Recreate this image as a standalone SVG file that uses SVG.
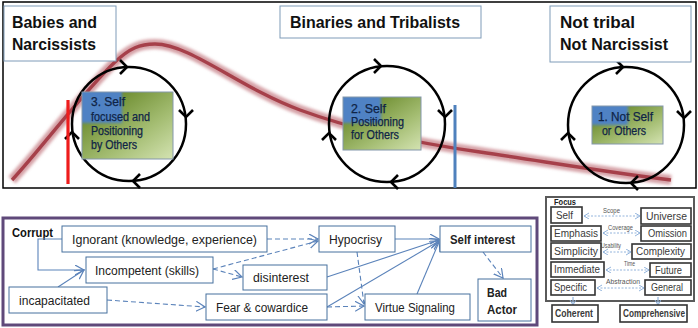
<svg xmlns="http://www.w3.org/2000/svg" width="698" height="328" viewBox="0 0 698 328">
<defs>
<style>
.t{font-family:"Liberation Sans",Arial,sans-serif;}
.title{font-size:17px;font-weight:bold;fill:#111;}
.tb{fill:#fff;stroke:#7f9bb8;stroke-width:1;}
.circ{fill:none;stroke:#000;stroke-width:2.5;}
.chev{fill:none;stroke:#000;stroke-width:2.6;stroke-linejoin:miter;stroke-linecap:butt;}
.gbox{stroke:#8497ab;stroke-width:1;}
.bt{font-size:12px;fill:#0f2446;stroke:#0f2446;stroke-width:0.25;}
.nb{fill:#fff;stroke:#46709e;stroke-width:1;}
.nt{font-size:12px;fill:#222;}
.bold{font-weight:bold;}
.c{fill:none;stroke:#5b83ba;stroke-width:1.1;}
.d{stroke-dasharray:5,3;}
.fb{fill:#fff;stroke:#333;stroke-width:1.6;}
.ft{font-size:10px;fill:#3a3a3a;}
.fl{font-size:7px;fill:#555;}
.fa{fill:none;stroke:#93b4dc;stroke-width:1;stroke-dasharray:2,1.5;}
</style>
<marker id="arr" markerUnits="userSpaceOnUse" markerWidth="12" markerHeight="12" refX="9" refY="5" orient="auto">
<path d="M0,0 L9,5 L0,10" fill="none" stroke="#5b83ba" stroke-width="1.2"/>
</marker>
<marker id="farr" markerUnits="userSpaceOnUse" markerWidth="8" markerHeight="8" refX="5" refY="3" orient="auto-start-reverse">
<path d="M0,0 L5,3 L0,6" fill="none" stroke="#93b4dc" stroke-width="1"/>
</marker>
<linearGradient id="green" x1="0.2" y1="0.15" x2="1" y2="1">
<stop offset="0" stop-color="#6a8a2c"/>
<stop offset="0.55" stop-color="#a4bd72"/>
<stop offset="1" stop-color="#d4e3b2"/>
</linearGradient>
<filter id="soft" x="-30%" y="-30%" width="160%" height="160%"><feGaussianBlur stdDeviation="1.5"/></filter>
<filter id="glow" x="-5%" y="-20%" width="110%" height="140%"><feGaussianBlur stdDeviation="1.8"/></filter>
<clipPath id="cb1"><rect x="82" y="92" width="91" height="67"/></clipPath>
<clipPath id="cb2"><rect x="343" y="97" width="78" height="53"/></clipPath>
<clipPath id="cb3"><rect x="592" y="106" width="71" height="38"/></clipPath>
</defs>
<rect width="698" height="328" fill="#fff"/>

<g id="top-panel">
<rect x="3" y="2" width="693" height="186" fill="#fff" stroke="#000" stroke-width="1.5"/>
<g id="curve">
<path d="M12,180 C40,150 85,90 115,62 C130,48 140,44 155,44 C190,44 240,88 300,110 C360,132 430,145 480,152 C560,164 620,174 671,180" fill="none" stroke="#c47a82" stroke-width="10" stroke-opacity="0.7" filter="url(#glow)"/>
<path d="M12,180 C40,150 85,90 115,62 C130,48 140,44 155,44 C190,44 240,88 300,110 C360,132 430,145 480,152 C560,164 620,174 671,180" fill="none" stroke="#9e2f3a" stroke-width="3.4" stroke-opacity="0.85"/>
</g>
</g>

<g id="cycle-1">
<circle class="circ" cx="129" cy="124" r="57"/>
<path class="chev" d="M120,60 L127,67 L120,74"/>
<path class="chev" d="M179,110 L186,117 L193,110"/>
<path class="chev" d="M140,174 L133,181 L140,188"/>
<path class="chev" d="M65,139 L72,132 L79,139"/>
</g>
<g id="cycle-2">
<circle class="circ" cx="387" cy="124" r="58"/>
<path class="chev" d="M374,59 L381,66 L374,73"/>
<path class="chev" d="M438,110 L445,117 L452,110"/>
<path class="chev" d="M398,175 L391,182 L398,189"/>
<path class="chev" d="M322,140 L329,133 L336,140"/>
</g>
<g id="cycle-3">
<circle class="circ" cx="626" cy="125" r="58"/>
<path class="chev" d="M616,60 L623,67 L616,74"/>
<path class="chev" d="M677,111 L684,118 L691,111"/>
<path class="chev" d="M638,176 L631,183 L638,190"/>
<path class="chev" d="M561,140 L568,133 L575,140"/>
</g>

<g id="box-3-self-focused">
<g clip-path="url(#cb1)">
<rect x="82" y="92" width="91" height="67" fill="url(#green)"/>
<rect x="78" y="88" width="44" height="35" fill="#4f82c4" filter="url(#soft)"/>
</g>
<rect class="gbox" x="82" y="92" width="91" height="67" fill="none"/>
<text class="t bt" x="91" y="106" textLength="34" lengthAdjust="spacingAndGlyphs">3. Self</text>
<text class="t bt" x="91" y="121" textLength="59" lengthAdjust="spacingAndGlyphs">focused and</text>
<text class="t bt" x="91" y="135" textLength="52" lengthAdjust="spacingAndGlyphs">Positioning</text>
<text class="t bt" x="91" y="149" textLength="46" lengthAdjust="spacingAndGlyphs">by Others</text>
</g>
<g id="box-2-self-positioning">
<g clip-path="url(#cb2)">
<rect x="343" y="97" width="78" height="53" fill="url(#green)"/>
<rect x="339" y="93" width="42" height="30" fill="#4f82c4" filter="url(#soft)"/>
</g>
<rect class="gbox" x="343" y="97" width="78" height="53" fill="none"/>
<text class="t bt" x="351" y="113" textLength="35" lengthAdjust="spacingAndGlyphs">2. Self</text>
<text class="t bt" x="351" y="126" textLength="53" lengthAdjust="spacingAndGlyphs">Positioning</text>
<text class="t bt" x="351" y="139" textLength="48" lengthAdjust="spacingAndGlyphs">for Others</text>
</g>
<g id="box-1-not-self">
<g clip-path="url(#cb3)">
<rect x="592" y="106" width="71" height="38" fill="url(#green)"/>
<rect x="588" y="102" width="40" height="23" fill="#4f82c4" filter="url(#soft)"/>
</g>
<rect class="gbox" x="592" y="106" width="71" height="38" fill="none"/>
<text class="t bt" x="598" y="121" textLength="55" lengthAdjust="spacingAndGlyphs">1. Not Self</text>
<text class="t bt" x="602" y="135" textLength="44" lengthAdjust="spacingAndGlyphs">or Others</text>
</g>

<g id="markers-lines">
<line x1="68" y1="100" x2="68" y2="184" stroke="#ee1c1c" stroke-width="3.2"/>
<line x1="455" y1="105" x2="455" y2="188" stroke="#4f81bd" stroke-width="3"/>
</g>

<g id="title-babies">
<rect class="tb" x="4" y="6" width="112" height="55"/>
<text class="t title" x="12" y="28" textLength="85" lengthAdjust="spacingAndGlyphs">Babies and</text>
<text class="t title" x="12" y="50" textLength="84" lengthAdjust="spacingAndGlyphs">Narcissists</text>
</g>
<g id="title-binaries">
<rect class="tb" x="280" y="6" width="201" height="32"/>
<text class="t title" x="290" y="28" textLength="170" lengthAdjust="spacingAndGlyphs">Binaries and Tribalists</text>
</g>
<g id="title-not-tribal">
<rect class="tb" x="550" y="6" width="141" height="56"/>
<text class="t title" x="560" y="28" textLength="75" lengthAdjust="spacingAndGlyphs">Not tribal</text>
<text class="t title" x="560" y="50" textLength="108" lengthAdjust="spacingAndGlyphs">Not Narcissist</text>
</g>

<g id="corrupt-panel">
<rect x="3" y="218" width="534" height="107" fill="#fff" stroke="#5f497a" stroke-width="3"/>
<text class="t bold" x="12" y="237" font-size="12" fill="#111" textLength="41" lengthAdjust="spacingAndGlyphs">Corrupt</text>
</g>

<g id="connectors">
<polyline class="c" points="62,239 38,239 38,270 84,270" marker-end="url(#arr)"/>
<line class="c" x1="58" y1="287" x2="84" y2="270" marker-end="url(#arr)"/>
<line class="c d" x1="107" y1="300" x2="205" y2="307" marker-end="url(#arr)"/>
<line class="c d" x1="267" y1="239" x2="318" y2="239" marker-end="url(#arr)"/>
<line class="c d" x1="213" y1="269" x2="318" y2="241" marker-end="url(#arr)"/>
<line class="c d" x1="213" y1="269" x2="242" y2="277" marker-end="url(#arr)"/>
<line class="c d" x1="357" y1="252" x2="364" y2="304" marker-end="url(#arr)"/>
<line class="c d" x1="327" y1="307" x2="364" y2="306" marker-end="url(#arr)"/>
<line class="c" x1="395" y1="239" x2="439" y2="239" marker-end="url(#arr)"/>
<line class="c" x1="327" y1="277" x2="439" y2="240" marker-end="url(#arr)"/>
<line class="c" x1="327" y1="307" x2="439" y2="241" marker-end="url(#arr)"/>
<line class="c" x1="417" y1="294" x2="439" y2="242" marker-end="url(#arr)"/>
<line class="c d" x1="483" y1="252" x2="503" y2="278" marker-end="url(#arr)"/>
</g>

<g id="node-ignorant">
<rect class="nb" x="62" y="226" width="205" height="26"/>
<text class="t nt" x="72" y="244" textLength="185" lengthAdjust="spacingAndGlyphs">Ignorant (knowledge, experience)</text>
</g>
<g id="node-incompetent">
<rect class="nb" x="86" y="257" width="127" height="26"/>
<text class="t nt" x="95" y="275" textLength="104" lengthAdjust="spacingAndGlyphs">Incompetent (skills)</text>
</g>
<g id="node-incapacitated">
<rect class="nb" x="9" y="287" width="98" height="26"/>
<text class="t nt" x="19" y="305" textLength="71" lengthAdjust="spacingAndGlyphs">incapacitated</text>
</g>
<g id="node-disinterest">
<rect class="nb" x="243" y="265" width="84" height="25"/>
<text class="t nt" x="253" y="282" textLength="56" lengthAdjust="spacingAndGlyphs">disinterest</text>
</g>
<g id="node-fear">
<rect class="nb" x="206" y="294" width="121" height="26"/>
<text class="t nt" x="216" y="312" textLength="92" lengthAdjust="spacingAndGlyphs">Fear &amp; cowardice</text>
</g>
<g id="node-hypocrisy">
<rect class="nb" x="319" y="226" width="76" height="26"/>
<text class="t nt" x="329" y="244" textLength="53" lengthAdjust="spacingAndGlyphs">Hypocrisy</text>
</g>
<g id="node-virtue">
<rect class="nb" x="365" y="294" width="105" height="26"/>
<text class="t nt" x="375" y="312" textLength="80" lengthAdjust="spacingAndGlyphs">Virtue Signaling</text>
</g>
<g id="node-self-interest">
<rect class="nb" x="440" y="226" width="91" height="26"/>
<text class="t nt bold" x="450" y="244" textLength="65" lengthAdjust="spacingAndGlyphs">Self interest</text>
</g>
<g id="node-bad-actor">
<rect class="nb" x="478" y="279" width="53" height="42"/>
<text class="t nt bold" x="487" y="297" font-size="13" textLength="20" lengthAdjust="spacingAndGlyphs">Bad</text>
<text class="t nt bold" x="487" y="314" font-size="13" textLength="30" lengthAdjust="spacingAndGlyphs">Actor</text>
</g>

<g id="focus-panel">
<rect x="546" y="197" width="148" height="104" fill="#fff" stroke="#5a5a5a" stroke-width="2"/>
<text class="t bold" x="554" y="205" font-size="8.5" fill="#222" textLength="22" lengthAdjust="spacingAndGlyphs">Focus</text>
</g>
<g id="focus-connectors">
<line class="fa" x1="584" y1="216" x2="640" y2="216" marker-start="url(#farr)" marker-end="url(#farr)"/>
<line class="fa" x1="603" y1="233" x2="640" y2="233" marker-start="url(#farr)" marker-end="url(#farr)"/>
<line class="fa" x1="603" y1="252" x2="631" y2="252" marker-start="url(#farr)" marker-end="url(#farr)"/>
<line class="fa" x1="606" y1="270" x2="649" y2="270" marker-start="url(#farr)" marker-end="url(#farr)"/>
<line class="fa" x1="597" y1="288" x2="644" y2="288" marker-start="url(#farr)" marker-end="url(#farr)"/>
<line x1="573" y1="297" x2="573" y2="305" stroke="#93b4dc" stroke-width="1.2" marker-end="url(#farr)"/>
<line x1="658" y1="297" x2="658" y2="305" stroke="#93b4dc" stroke-width="1.2" marker-end="url(#farr)"/>
<text class="t fl" x="603" y="213" textLength="17" lengthAdjust="spacingAndGlyphs">Scope</text>
<text class="t fl" x="608" y="230" textLength="25" lengthAdjust="spacingAndGlyphs">Coverage</text>
<text class="t fl" x="601" y="248" textLength="20" lengthAdjust="spacingAndGlyphs">Usability</text>
<text class="t fl" x="624" y="266" textLength="11" lengthAdjust="spacingAndGlyphs">Time</text>
<text class="t fl" x="606" y="284" textLength="34" lengthAdjust="spacingAndGlyphs">Abstraction</text>
</g>
<g id="focus-self"><rect class="fb" x="551" y="207" width="31" height="16"/><text class="t ft" x="556" y="219" textLength="17" lengthAdjust="spacingAndGlyphs">Self</text></g>
<g id="focus-emphasis"><rect class="fb" x="551" y="226" width="50" height="15"/><text class="t ft" x="554" y="237" textLength="44" lengthAdjust="spacingAndGlyphs">Emphasis</text></g>
<g id="focus-simplicity"><rect class="fb" x="551" y="243" width="50" height="16"/><text class="t ft" x="554" y="255" textLength="44" lengthAdjust="spacingAndGlyphs">Simplicity</text></g>
<g id="focus-immediate"><rect class="fb" x="551" y="262" width="53" height="15"/><text class="t ft" x="554" y="273" textLength="46" lengthAdjust="spacingAndGlyphs">Immediate</text></g>
<g id="focus-specific"><rect class="fb" x="551" y="280" width="44" height="15"/><text class="t ft" x="554" y="291" textLength="33" lengthAdjust="spacingAndGlyphs">Specific</text></g>
<g id="focus-universe"><rect class="fb" x="641" y="208" width="50" height="16"/><text class="t ft" x="646" y="220" textLength="41" lengthAdjust="spacingAndGlyphs">Universe</text></g>
<g id="focus-omission"><rect class="fb" x="641" y="226" width="50" height="15"/><text class="t ft" x="648" y="237" textLength="39" lengthAdjust="spacingAndGlyphs">Omission</text></g>
<g id="focus-complexity"><rect class="fb" x="632" y="244" width="59" height="15"/><text class="t ft" x="636" y="255" textLength="49" lengthAdjust="spacingAndGlyphs">Complexity</text></g>
<g id="focus-future"><rect class="fb" x="650" y="263" width="41" height="14"/><text class="t ft" x="655" y="274" textLength="27" lengthAdjust="spacingAndGlyphs">Future</text></g>
<g id="focus-general"><rect class="fb" x="645" y="280" width="46" height="15"/><text class="t ft" x="651" y="291" textLength="32" lengthAdjust="spacingAndGlyphs">General</text></g>
<g id="focus-coherent"><rect class="fb" x="552" y="305" width="46" height="17"/><text class="t ft bold" x="555" y="317" fill="#222" textLength="38" lengthAdjust="spacingAndGlyphs">Coherent</text></g>
<g id="focus-comprehensive"><rect class="fb" x="620" y="305" width="67" height="17"/><text class="t ft bold" x="623" y="317" fill="#222" textLength="62" lengthAdjust="spacingAndGlyphs">Comprehensive</text></g>
</svg>
